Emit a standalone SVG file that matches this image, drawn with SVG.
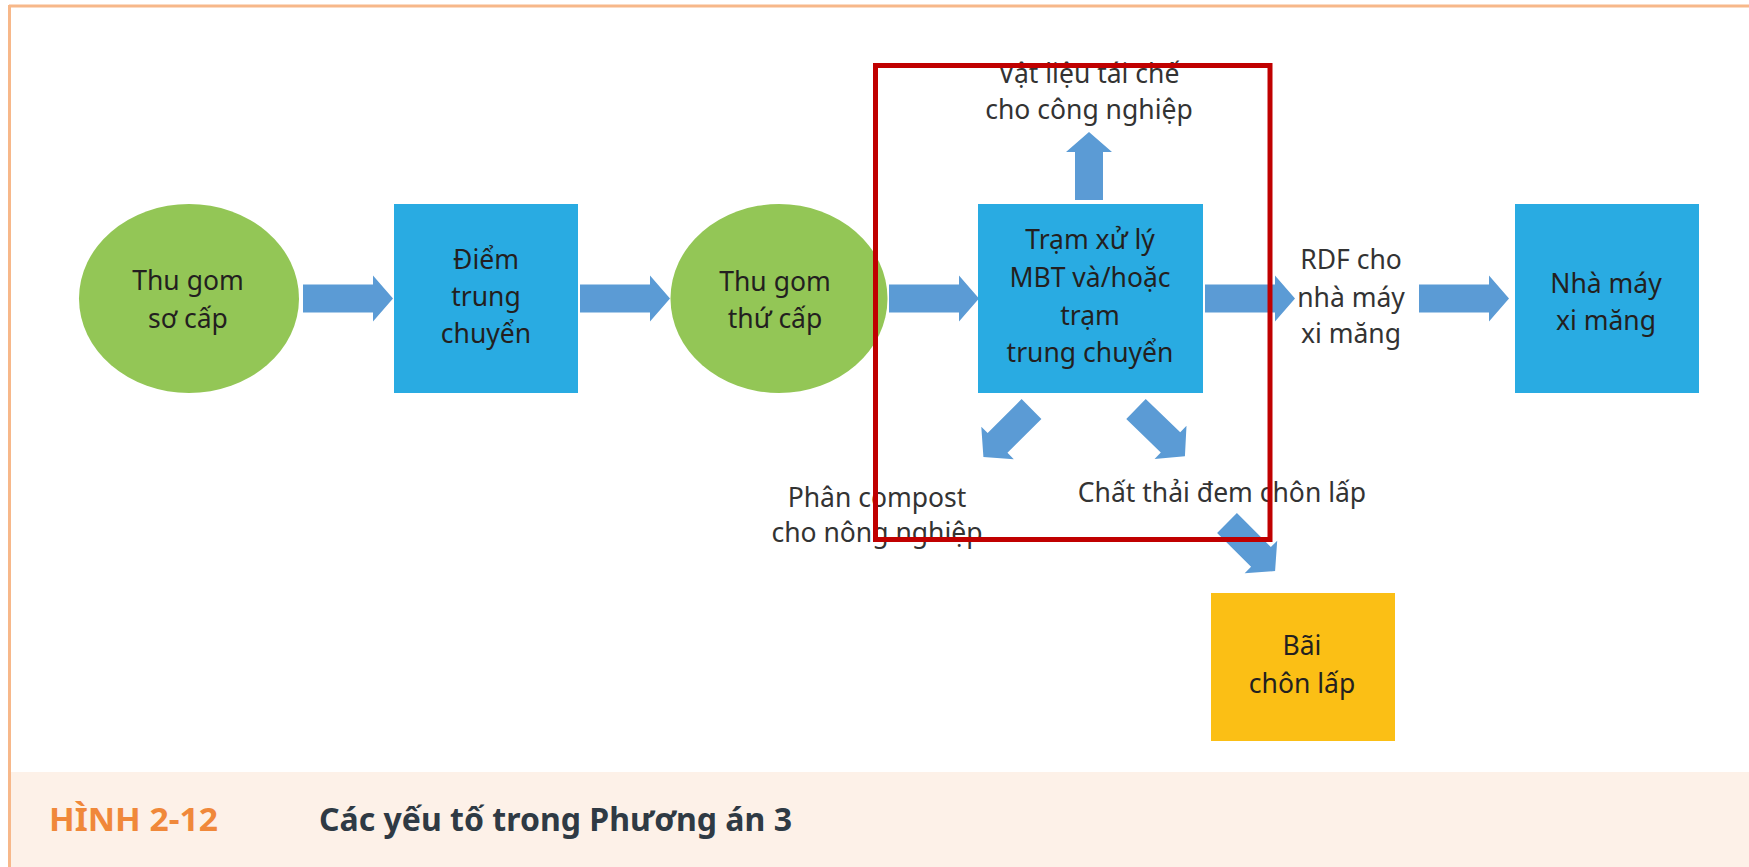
<svg xmlns="http://www.w3.org/2000/svg" width="1749" height="867" viewBox="0 0 1749 867">
<style>
.t{font-family:"Noto Sans","Open Sans","Liberation Sans",sans-serif;font-size:26.5px;fill:#231f20;text-anchor:middle}
.l{font-family:"Noto Sans","Open Sans","Liberation Sans",sans-serif;font-size:26.5px;fill:#333333;text-anchor:middle}
.green{fill:#93c656}
.blue{fill:#29abe2}
.yellow{fill:#fbbf15}
.arr{fill:#5b9bd5}
.cap{font-family:"Noto Sans","Open Sans","Liberation Sans",sans-serif;font-weight:bold;font-size:32px}
</style>
<defs>
<path id="arrowL" d="M0,-14 H70 V-23 L90,0 L70,23 V14 H0 Z"/>
<path id="arrowS" d="M0,-14 H48 V-23 L68,0 L48,23 V14 H0 Z"/>
</defs>
<rect x="0" y="0" width="1749" height="867" fill="#ffffff"/>
<g id="frame">
<rect x="10" y="772" width="1739" height="95" fill="#fdf1e8"/>
<line x1="9" y1="6" x2="1749" y2="6" stroke="#f7b88a" stroke-width="3"/>
<line x1="9.5" y1="5" x2="9.5" y2="867" stroke="#f7b88a" stroke-width="3"/>
</g>
<g id="connectors" class="arr">
<use href="#arrowL" transform="translate(303,298.5)"/>
<use href="#arrowL" transform="translate(580,298.5)"/>
<use href="#arrowL" transform="translate(889,298.5)"/>
<use href="#arrowL" transform="translate(1205,298.5)"/>
<use href="#arrowL" transform="translate(1419,298.5)"/>
<use href="#arrowS" transform="translate(1089,200) rotate(-90)"/>
<use href="#arrowS" transform="translate(1031.5,409) rotate(135)"/>
<use href="#arrowS" transform="translate(1136,409) rotate(44)"/>
<use href="#arrowS" transform="translate(1227,523) rotate(45)"/>
</g>
<g id="n1">
<ellipse class="green" cx="189" cy="298.5" rx="110" ry="94.5"/>
<text class="t" x="188" y="290">Thu gom</text>
<text class="t" x="188" y="328">sơ cấp</text>
</g>
<g id="n2">
<rect class="blue" x="394" y="204" width="184" height="189"/>
<text class="t" x="486" y="269">Điểm</text>
<text class="t" x="486" y="306">trung</text>
<text class="t" x="486" y="343">chuyển</text>
</g>
<g id="n3">
<ellipse class="green" cx="779" cy="298.5" rx="108.5" ry="94.5"/>
<text class="t" x="775" y="291">Thu gom</text>
<text class="t" x="775" y="328">thứ cấp</text>
</g>
<g id="n4">
<rect class="blue" x="978" y="204" width="225" height="189"/>
<text class="t" x="1090" y="249">Trạm xử lý</text>
<text class="t" x="1090" y="287">MBT và/hoặc</text>
<text class="t" x="1090" y="325">trạm</text>
<text class="t" x="1090" y="362">trung chuyển</text>
</g>
<g id="n5">
<rect class="blue" x="1515" y="204" width="184" height="189"/>
<text class="t" x="1606" y="293">Nhà máy</text>
<text class="t" x="1606" y="330">xi măng</text>
</g>
<g id="n6">
<rect class="yellow" x="1211" y="593" width="184" height="148"/>
<text class="t" x="1302" y="655">Bãi</text>
<text class="t" x="1302" y="693">chôn lấp</text>
</g>
<g id="labels">
<text class="l" x="1351" y="269">RDF cho</text>
<text class="l" x="1351" y="307">nhà máy</text>
<text class="l" x="1351" y="343">xi măng</text>
<text class="l" x="1089" y="83">Vật liệu tái chế</text>
<text class="l" x="1089" y="119">cho công nghiệp</text>
<text class="l" x="877" y="507">Phân compost</text>
<text class="l" x="877" y="542">cho nông nghiệp</text>
<text class="l" x="1222" y="502">Chất thải đem chôn lấp</text>
</g>
<g id="highlight">
<rect x="875.5" y="65.5" width="394.5" height="474" fill="none" stroke="#c00000" stroke-width="5"/>
</g>
<g id="caption">
<text class="cap" x="49" y="831" fill="#f0883a" textLength="169" lengthAdjust="spacingAndGlyphs">HÌNH 2-12</text>
<text class="cap" x="319" y="831" fill="#2f3a44" textLength="473" lengthAdjust="spacingAndGlyphs">Các yếu tố trong Phương án 3</text>
</g>
</svg>
